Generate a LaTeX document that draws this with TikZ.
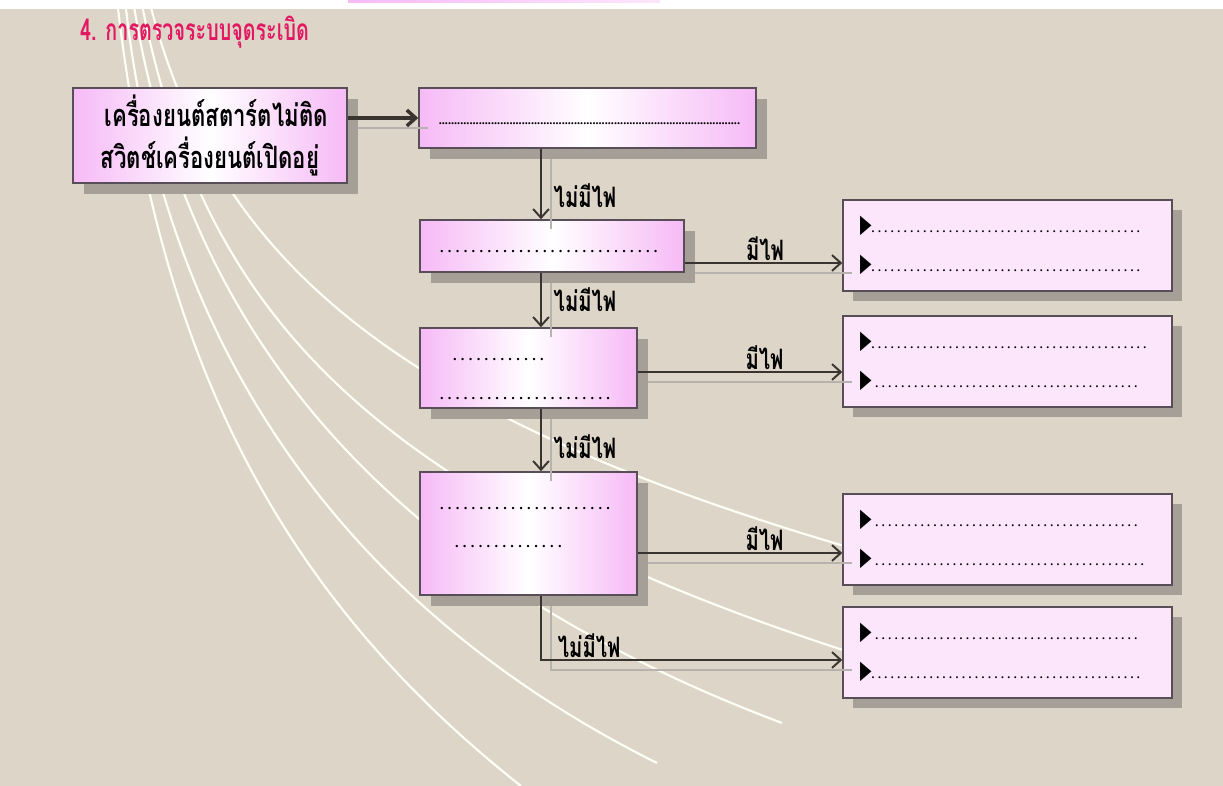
\documentclass[tikz,border=0pt]{standalone}
\usepackage{fontspec}
\newfontfamily\thaifont[Script=Thai,FakeStretch=0.82]{Loma}
\newfontfamily\thaicond[Script=Thai,FakeStretch=0.72]{Loma}
\newfontfamily\titlefont[Script=Thai,FakeStretch=0.66]{Loma}
\newfontfamily\dotfont[LetterSpace=30]{Liberation Serif}
\newfontfamily\densedot{Liberation Serif}
\newfontfamily\symfont{DejaVu Sans}
\usetikzlibrary{shadows,arrows.meta}
\definecolor{bgbeige}{RGB}{221,213,200}
\definecolor{boxpink}{RGB}{246,186,246}
\definecolor{respink}{RGB}{252,230,252}
\definecolor{boxline}{RGB}{88,78,88}
\definecolor{boxshadow}{RGB}{165,159,152}
\definecolor{arrline}{RGB}{58,52,48}
\definecolor{titlered}{RGB}{226,24,98}
\newcommand{\bul}{{\symfont\fontsize{10}{12}\selectfont\scalebox{0.85}[1.45]{▶}}}

\begin{document}
\begin{tikzpicture}[x=0.02cm,y=-0.02cm,
    flowbox/.style={draw=boxline, line width=0.9pt, left color=boxpink, right color=boxpink, middle color=white,
      drop shadow={shadow xshift=0.22cm, shadow yshift=-0.22cm, fill=boxshadow, opacity=1},
      inner sep=0pt, align=left, font=\dotfont\bfseries\fontsize{8.2}{22}\selectfont},
    resbox/.style={draw=boxline, line width=0.9pt, fill=respink,
      drop shadow={shadow xshift=0.2cm, shadow yshift=-0.2cm, fill=boxshadow, opacity=1},
      minimum width=6.58cm, minimum height=1.82cm, text width=5.9cm, align=left, inner sep=0pt,
      font=\dotfont\bfseries\fontsize{6.7}{22}\selectfont},
    arr/.style={draw=arrline, line width=1.1pt, -{Straight Barb[length=5pt,width=9pt]},
      preaction={draw=boxshadow!80, line width=0.6pt, -, transform canvas={shift={(0.2cm,-0.2cm)}}}},
    lbl/.style={font=\thaicond\bfseries\fontsize{16}{18}\selectfont, inner sep=1pt},
    fanline/.style={draw=white!97!yellow, line width=1.2pt}]
  \useasboundingbox (0,0) rectangle (1223,786);
  \fill[bgbeige] (0,0) rectangle (1223,786);
  \draw[fanline] (117,0) .. controls (155,330) and (260,580) .. (521,786);
  \draw[fanline] (125,0) .. controls (160,330) and (330,600) .. (657,763);
  \draw[fanline] (133,0) .. controls (180,300) and (350,560) .. (782,723);
  \draw[fanline] (141,0) .. controls (200,300) and (350,500) .. (900,668);
  \draw[fanline] (149,0) .. controls (215,260) and (390,420) .. (900,562);
  \fill[white] (0,0) rectangle (1223,9);
  \fill[left color=boxpink, right color=respink] (348,0) rectangle (660,3);
  \node[anchor=west, text=titlered, font=\titlefont\bfseries\fontsize{17}{19}\selectfont] (title) at (74,32) {4. การตรวจระบบจุดระเบิด};
  \coordinate (s) at (541,0);
  \node[flowbox, minimum width=5.48cm, minimum height=1.9cm, align=center, font=\thaicond\bfseries\fontsize{17.5}{23.8}\selectfont] (b1) at (210,135.5) {\hspace*{0.25cm}เครื่องยนต์สตาร์ตไม่ติด\\สวิตช์เครื่องยนต์เปิดอยู่};
  \node[flowbox, minimum width=6.74cm, minimum height=1.2cm, text width=5.95cm, text height=7pt, text depth=0pt, font=\densedot\bfseries\fontsize{7}{9}\selectfont] (b2) at (587.5,118) {..................................................................................................};
  \node[flowbox, minimum width=5.28cm, minimum height=1.04cm, text width=4.48cm, text height=7pt, text depth=0pt] (b3) at (552,246) {............................};
  \node[flowbox, minimum width=4.34cm, minimum height=1.6cm, text width=3.54cm] (b4) at (528.5,368) {\rule{0pt}{14pt}\hspace*{0.26cm}............\\......................};
  \node[flowbox, minimum width=4.34cm, minimum height=2.46cm, text width=3.54cm] (b5) at (528.5,533.5) {......................\\\hspace*{0.3cm}..............\rule[-7pt]{0pt}{7pt}};
  \node[resbox] (r1) at (1007.5,245.5) {\bul..........................................\\\bul..........................................};
  \node[resbox] (r2) at (1007.5,361.5) {\bul...........................................\\\bul\ .........................................};
  \node[resbox] (r3) at (1007.5,539.5) {\bul\ .........................................\\\bul\ ..........................................};
  \node[resbox] (r4) at (1007.5,652.5) {\bul\ .........................................\\\bul..........................................};
  \draw[arr, line width=2pt] (b1.east |- b2.west) -- (b2.west);
  \draw[arr] (b2.south -| s) -- node[lbl, right, xshift=0.2cm, pos=0.66] {ไม่มีไฟ} (b3.north -| s);
  \draw[arr] (b3.south -| s) -- node[lbl, right, xshift=0.2cm, pos=0.5] {ไม่มีไฟ} (b4.north -| s);
  \draw[arr] (b4.south -| s) -- node[lbl, right, xshift=0.2cm, pos=0.6] {ไม่มีไฟ} (b5.north -| s);
  \draw[arr] ([yshift=-0.34cm]b3.east) -- node[lbl, above, pos=0.51] {มีไฟ} ([yshift=-0.34cm]b3.east -| r1.west);
  \draw[arr] ([yshift=-0.08cm]b4.east) -- node[lbl, above, pos=0.62] {มีไฟ} ([yshift=-0.08cm]b4.east -| r2.west);
  \draw[arr] ([yshift=-0.39cm]b5.east) -- node[lbl, above, pos=0.62] {มีไฟ} ([yshift=-0.39cm]b5.east -| r3.west);
  \draw[arr] (b5.south -| s) |- node[lbl, above, pos=0.58] {ไม่มีไฟ} ([yshift=-0.15cm]r4.west);
\end{tikzpicture}
\end{document}
